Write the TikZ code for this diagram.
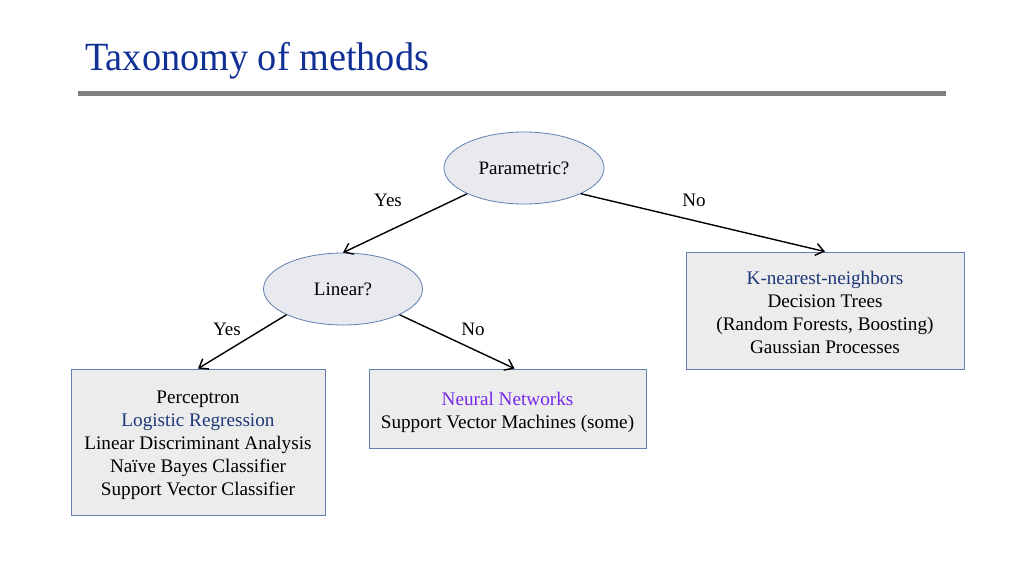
\documentclass[tikz,border=0pt]{standalone}
\usepackage{fontspec}
\setmainfont{Liberation Serif}
\usetikzlibrary{shapes.geometric,arrows.meta}
\definecolor{titleblue}{RGB}{16,48,150}
\definecolor{rulegray}{RGB}{128,128,128}
\definecolor{edgeblue}{RGB}{96,126,176}
\definecolor{ellfill}{RGB}{232,234,240}
\definecolor{boxfill}{RGB}{236,236,237}
\definecolor{darkblue}{RGB}{30,55,120}
\definecolor{nnpurple}{RGB}{118,40,235}
\tikzset{
  question/.style={ellipse, draw=edgeblue, fill=ellfill, line width=0.8pt, minimum width=160pt, minimum height=72pt, inner sep=0pt, font=\fontsize{19}{23}\selectfont},
  leaf/.style={rectangle, draw=edgeblue, fill=boxfill, line width=0.8pt, inner sep=0pt},
  leaftext/.style={align=center, inner sep=0pt, font=\fontsize{19.2}{23}\selectfont},
  conn/.style={line width=1.4pt, -{Straight Barb[length=8pt,width=12pt,line width=1.4pt]}},
  lbl/.style={font=\fontsize{19}{23}\selectfont}
}
\begin{document}
\begin{tikzpicture}[x=1pt,y=-1pt]
\useasboundingbox[fill=white] (0,0) rectangle (1024,576);
\node[anchor=base west, text=titleblue, font=\fontsize{40}{48}\selectfont, xscale=0.957, inner sep=0pt] (title) at (85,70) {Taxonomy of methods};
\fill[rulegray] (78,91) rectangle (946,96);
\node[question] (par) at (524,168) {Parametric?};
\node[question, minimum width=159pt] (lin) at (343,289) {Linear?};
\node[leaf, minimum width=278pt, minimum height=117pt] (knn) at (825,310.5) {};
\node[leaftext] (knnt) at ([yshift=-2pt]knn.center) {\textcolor{darkblue}{K-nearest-neighbors}\\Decision Trees\\(Random Forests, Boosting)\\Gaussian Processes};
\node[leaf, minimum width=254pt, minimum height=146pt] (lft) at (198,442) {};
\node[leaftext] (lftt) at ([yshift=-3pt]lft.center) {Perceptron\\\textcolor{darkblue}{Logistic Regression}\\Linear Discriminant Analysis\\Naïve Bayes Classifier\\Support Vector Classifier};
\node[leaf, minimum width=277pt, minimum height=79pt] (mid) at (507.5,408.5) {};
\node[leaftext] (midt) at ([yshift=-4pt]mid.center) {\textcolor{nnpurple}{Neural Networks}\\Support Vector Machines (some)};
\draw[conn] (par.south west) -- (lin.north);
\draw[conn] (par.south east) -- (knn.north);
\draw[conn] (lin.south west) -- (lft.north);
\draw[conn] (lin.south east) -- ([xshift=7pt]mid.north);
\node[lbl] (y1) at (388,200) {Yes};
\node[lbl] (n1) at (694,200) {No};
\node[lbl] (y2) at (227,329) {Yes};
\node[lbl] (n2) at (473,329) {No};
\end{tikzpicture}
\end{document}
